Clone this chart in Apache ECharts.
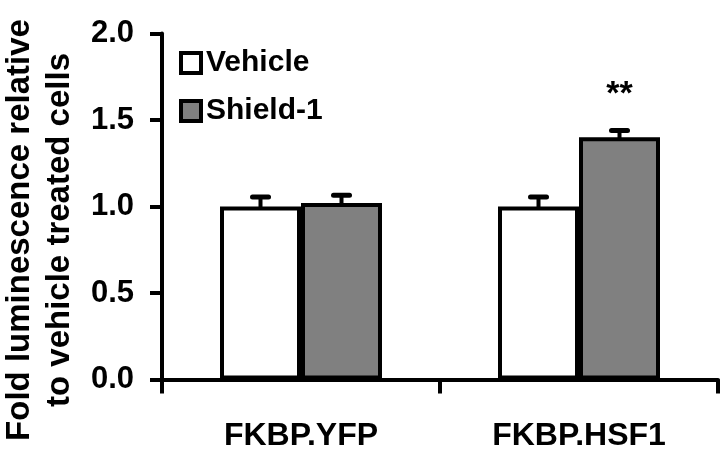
<!DOCTYPE html>
<html>
<head>
<meta charset="utf-8">
<script src="https://cdn.jsdelivr.net/npm/echarts@6/dist/echarts.min.js"></script>
<style>
  html, body { margin: 0; padding: 0; background: #fff; }
  #main { width: 720px; height: 462px; }
</style>
</head>
<body>
<div id="main"></div>
<script>
// data
var categories = ['FKBP.YFP', 'FKBP.HSF1'];
var vehicle = [1.0, 1.0];
var vehicleErr = [0.055, 0.055];
var shield = [1.02, 1.40];
var shieldErr = [0.045, 0.04];
var sigMarks = ['', '**'];
var yTicks = [0, 0.5, 1.0, 1.5, 2.0];

var FONT = '"Liberation Sans", Arial, sans-serif';
var BAR_W = 81;

var chartDom = document.getElementById('main');
var myChart = echarts.init(chartDom);

// error bar (upper half only, lower half is hidden inside the bar)
function errBar(values, errs, offset) {
  return {
    type: 'custom',
    silent: true,
    z: 5,
    data: values.map(function (v, i) { return [i, v, v + errs[i]]; }),
    renderItem: function (params, api) {
      var lo = api.coord([api.value(0), api.value(1)]);
      var hi = api.coord([api.value(0), api.value(2)]);
      var x = lo[0] + offset;
      var style = { stroke: '#000', lineWidth: 4, lineCap: 'round' };
      return {
        type: 'group',
        children: [
          { type: 'line', shape: { x1: x, y1: lo[1], x2: x, y2: hi[1] }, style: style },
          { type: 'line', shape: { x1: x - 8, y1: hi[1], x2: x + 8, y2: hi[1] }, style: { stroke: '#000', lineWidth: 5, lineCap: 'round' } }
        ]
      };
    }
  };
}

var option = {
  animation: false,
  grid: { left: 162, right: 2, top: 33.5, bottom: 82.5 },
  legend: {
    orient: 'vertical',
    left: 174,
    top: 43,
    itemWidth: 20,
    itemHeight: 20,
    itemGap: 18,
    icon: 'rect',
    data: ['Vehicle', 'Shield-1'],
    itemStyle: { borderColor: '#000', borderWidth: 4 },
    textStyle: { fontFamily: FONT, fontWeight: 'bold', fontSize: 30, lineHeight: 30, color: '#000' }
  },
  graphic: [{
    type: 'text',
    x: 40,
    y: 230,
    rotation: Math.PI / 2,
    style: {
      text: 'Fold luminescence relative\nto vehicle treated cells',
      font: 'bold 33px ' + FONT,
      fill: '#000',
      align: 'center',
      verticalAlign: 'middle',
      lineHeight: 40
    }
  }],
  xAxis: {
    type: 'category',
    data: categories,
    axisLine: { lineStyle: { color: '#000', width: 4 } },
    axisTick: { show: true, length: 14, lineStyle: { color: '#000', width: 4 } },
    axisLabel: { margin: 41, fontFamily: FONT, fontWeight: 'bold', fontSize: 32, color: '#000' }
  },
  yAxis: {
    type: 'value',
    min: 0,
    max: 2,
    interval: 0.5,
    splitLine: { show: false },
    axisLine: { show: true, lineStyle: { color: '#000', width: 4 } },
    axisTick: { show: true, length: 12, lineStyle: { color: '#000', width: 4 } },
    axisLabel: {
      margin: 28,
      fontFamily: FONT, fontWeight: 'bold', fontSize: 31, color: '#000',
      formatter: function (v) { return yTicks.indexOf(v) >= 0 ? v.toFixed(1) : ''; }
    }
  },
  series: [
    {
      name: 'Vehicle',
      type: 'bar',
      barWidth: BAR_W,
      barGap: '0%',
      data: vehicle,
      itemStyle: { color: '#fff', borderColor: '#000', borderWidth: 4 }
    },
    {
      name: 'Shield-1',
      type: 'bar',
      barWidth: BAR_W,
      barGap: '0%',
      data: shield,
      itemStyle: { color: '#808080', borderColor: '#000', borderWidth: 4 },
      label: {
        show: true,
        position: 'top',
        distance: 26,
        formatter: function (p) { return sigMarks[p.dataIndex]; },
        fontFamily: FONT, fontWeight: 'bold', fontSize: 34, color: '#000'
      }
    },
    errBar(vehicle, vehicleErr, -BAR_W / 2),
    errBar(shield, shieldErr, BAR_W / 2)
  ]
};

myChart.setOption(option);
</script>
</body>
</html>
